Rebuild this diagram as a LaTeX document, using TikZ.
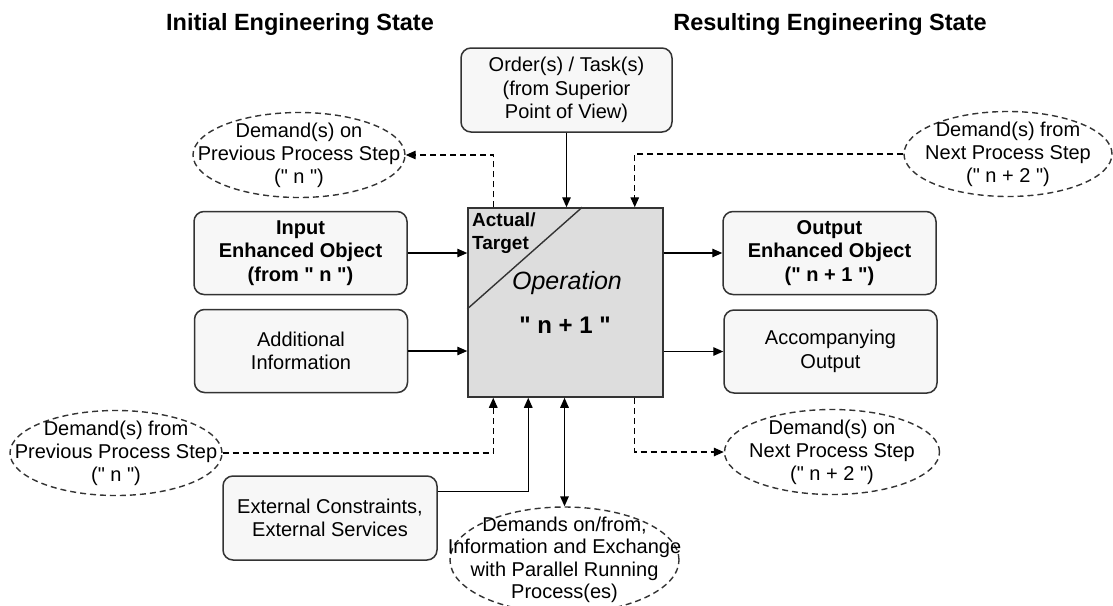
\documentclass[tikz,border=0pt]{standalone}
\usepackage{fontspec}
\setmainfont{Liberation Sans}[Ligatures=TeXOff]
\usetikzlibrary{positioning}
\usetikzlibrary{calc}
\usetikzlibrary{shapes}
\usetikzlibrary{arrows.meta}
\definecolor{boxfill}{HTML}{F7F7F7}
\definecolor{opfill}{HTML}{DDDDDD}
\definecolor{linegray}{HTML}{333333}
\tikzset{ %styles of the process step picture
  stepbox/.style={draw=linegray,line width=1.5pt,rounded corners=10pt,fill=boxfill,
    align=center,inner sep=0pt,minimum width=213pt,minimum height=83pt,
    font=\fontsize{20}{23.5}\selectfont},
  demand/.style={draw=linegray,dash pattern=on 6pt off 4pt,line width=1.4pt,ellipse,
    inner sep=0pt,minimum width=212pt,minimum height=85pt},
  dtext/.style={align=center,inner sep=0pt,font=\fontsize{20}{23}\selectfont},
  title/.style={font=\bfseries\fontsize{23.5}{28}\selectfont},
  arr/.style={draw=black,line width=1.4pt,-{Triangle[length=10pt,width=8.5pt]}},
  darr/.style={arr,dash pattern=on 6pt off 4pt}
}

\begin{document}
\begin{tikzpicture}[x=1pt,y=-1pt] % pixel like coordinates, y goes down
\useasboundingbox (0,0) rectangle (1113,605);
\clip (0,0) rectangle (1113,605);

\node[title] (initial) at (300,24) {Initial Engineering State};
\node[title] (result) at (830,24) {Resulting Engineering State};

% the operation
\node[draw=linegray,line width=1.5pt,fill=opfill,inner sep=0pt,
      minimum width=195pt,minimum height=189pt] (op) at (565.5,302.5) {};
\draw[linegray,line width=1.4pt] ($(op.north west)!0.585!(op.north east)$)
      -- ($(op.north west)!0.534!(op.south west)$);
\node[anchor=north west,align=left,inner sep=0pt,
      font=\bfseries\fontsize{19}{23}\selectfont] (actual) at (472,213) {Actual/\\Target};
\node[font=\itshape\fontsize{25}{28}\selectfont] (opname) at (567,283) {Operation};
\node[font=\bfseries\fontsize{24}{28}\selectfont] (opnum) at (565,325) {" n + 1 "};

% boxes
\node[stepbox,minimum width=211pt,minimum height=84pt] (order) at (566.5,90)
      {Order(s) / Task(s)\\(from Superior\\Point of View)};
\node[stepbox,font=\bfseries\fontsize{20}{23.5}\selectfont] (input) at (300.5,253)
      {Input\\Enhanced Object\\(from " n ")};
\node[stepbox] (addinfo) at (301,351) {Additional\\Information};
\node[stepbox,font=\bfseries\fontsize{20}{23.5}\selectfont] (output) at (829.5,253)
      {Output\\Enhanced Object\\(" n + 1 ")};
\node[stepbox] (accomp) at (830.5,351.5) {Accompanying\\Output};
\node[stepbox,minimum width=214pt,minimum height=84pt] (extern) at (330,518)
      {External Constraints,\\External Services};

% demands
\node[demand,label={[dtext]center:{Demand(s) on\\Previous Process Step\\(" n ")}}]
      (prevon) at (299,155) {};
\node[demand,minimum width=208pt,label={[dtext]center:{Demand(s) from\\Next Process Step\\(" n + 2 ")}}]
      (nextfrom) at (1008,154) {};
\node[demand,label={[dtext]center:{Demand(s) from\\Previous Process Step\\(" n ")}}]
      (prevfrom) at (116,453) {};
\node[demand,minimum width=215pt,label={[dtext]center:{Demand(s) on\\Next Process Step\\(" n + 2 ")}}]
      (nexton) at (832,452) {};
\node[demand,minimum width=229pt,minimum height=106pt,
      label={[dtext,font=\fontsize{20}{22.5}\selectfont]center:{Demands on/from,\\Information and Exchange\\with Parallel Running\\Process(es)}}]
      (parallel) at (564.5,560) {};

% connectors
\draw[arr] (order.south) -- (order.south |- op.north);
\draw[darr] ([xshift=26pt]op.north west) |- (prevon.east);
\draw[darr] (nextfrom.west) -| ([xshift=-29pt]op.north east);
\draw[arr] (input.east) -- (input.east -| op.west);
\draw[arr] (addinfo.east) -- (addinfo.east -| op.west);
\draw[arr] (output.west -| op.east) -- (output.west);
\draw[arr] (accomp.west -| op.east) -- (accomp.west);
\draw[darr] (prevfrom.east) -| ([xshift=26pt]op.south west);
\draw[arr] ([yshift=-16pt]extern.north east) -| ([xshift=61pt]op.south west);
\draw[arr,{Triangle[length=10pt,width=8.5pt]}-{Triangle[length=10pt,width=8.5pt]}]
      (parallel.north |- op.south) -- (parallel.north);
\draw[darr] ([xshift=-29pt]op.south east) |- (nexton.west);
\end{tikzpicture}
\end{document}
